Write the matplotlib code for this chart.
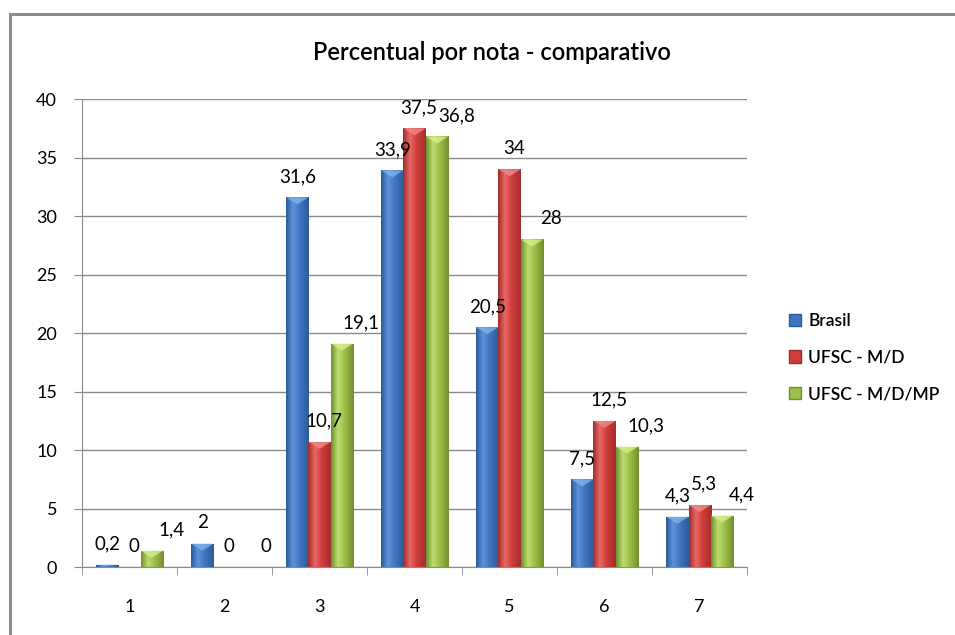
import matplotlib.pyplot as plt
import numpy as np
from matplotlib.colors import LinearSegmentedColormap
from matplotlib.patches import Rectangle, Polygon, Patch

plt.rcParams['font.family'] = ['Lato', 'DejaVu Sans']

notas = ['1', '2', '3', '4', '5', '6', '7']
series = ['Brasil', 'UFSC - M/D', 'UFSC - M/D/MP']
brasil = [0.2, 2, 31.6, 33.9, 20.5, 7.5, 4.3]
ufsc_md = [0, 0, 10.7, 37.5, 34, 12.5, 5.3]
ufsc_mdmp = [1.4, 0, 19.1, 36.8, 28, 10.3, 4.4]

# cores: borda escura, claro, base, borda escura
paletas = [
    ['#2a5a98', '#5c93d8', '#3f76c0', '#2c5c9a'],
    ['#a02c2a', '#e86866', '#cf3d3b', '#a32e2c'],
    ['#6f9030', '#bddb6e', '#9dc049', '#718f2e'],
]
topos = ['#7fb2ee', '#f08a88', '#d4ef8a']

fig = plt.figure(figsize=(9.55, 6.35), dpi=100)
fig.patches.append(Rectangle((0.0105, -0.05), 1.1, 1.028, transform=fig.transFigure,
                             fill=False, edgecolor='#8c8c8c', linewidth=2.2, clip_on=False))
ax = fig.add_axes([0.0859, 0.107, 0.6965, 0.737])

x = np.arange(len(notas))
w = 0.235
offs = [-w, 0, w]
dx_lab = [0, 3, 14]
grad = np.linspace(0, 1, 64).reshape(1, -1)

for k, vals in enumerate([brasil, ufsc_md, ufsc_mdmp]):
    cmap = LinearSegmentedColormap.from_list('c%d' % k, list(zip([0, 0.3, 0.6, 1], paletas[k])))
    bars = ax.bar(x + offs[k], vals, w, color=paletas[k][2], edgecolor='none', zorder=3)
    for b, v in zip(bars, vals):
        if v <= 0:
            continue
        x0, wb = b.get_x(), b.get_width()
        im = ax.imshow(grad, cmap=cmap, aspect='auto', extent=[x0, x0 + wb, 0, v], zorder=3.5)
        im.set_clip_path(b)
        h = min(0.6, v / 2)
        ax.add_patch(Polygon([[x0, v], [x0 + wb, v], [x0 + wb / 2, v - h]], closed=True,
                             facecolor=topos[k], edgecolor='none', alpha=0.8, zorder=4))
    for xi, v in zip(x + offs[k], vals):
        ax.annotate(('%g' % v).replace('.', ','), (xi, v), xytext=(dx_lab[k], 11),
                    textcoords='offset points', ha='center', va='baseline', fontsize=13.5,
                    color='black', zorder=5)

ax.set_xlim(-0.5, 6.5)
ax.set_ylim(0, 40)
ax.set_yticks(range(0, 41, 5))
ax.yaxis.grid(True, color='#8a8a8a', linewidth=1)
ax.set_axisbelow(True)
ax.set_xticks(x)
ax.set_xticklabels(notas)
ax.set_xticks(np.arange(-0.5, 7, 1), minor=True)
ax.tick_params(axis='x', which='major', length=0, pad=23, labelsize=13)
ax.tick_params(axis='x', which='minor', length=6, color='#8a8a8a')
ax.tick_params(axis='y', length=6, color='#8a8a8a', labelsize=13, pad=12)
for s in ['top', 'right']:
    ax.spines[s].set_visible(False)
for s in ['left', 'bottom']:
    ax.spines[s].set_color('#8a8a8a')

ax.set_title('Percentual por nota - comparativo', fontsize=17, fontweight='semibold', pad=28,
             x=0.617)

handles = [Patch(facecolor=paletas[k][2], edgecolor=paletas[k][0]) for k in range(3)]
fig.legend(handles, series, loc='upper left', bbox_to_anchor=(0.81, 0.532), frameon=False,
           prop={'size': 12.5, 'weight': 'semibold'}, handlelength=0.7, handleheight=0.7,
           handletextpad=0.4, labelspacing=1.2)

fig.savefig('out.png', dpi=100)
